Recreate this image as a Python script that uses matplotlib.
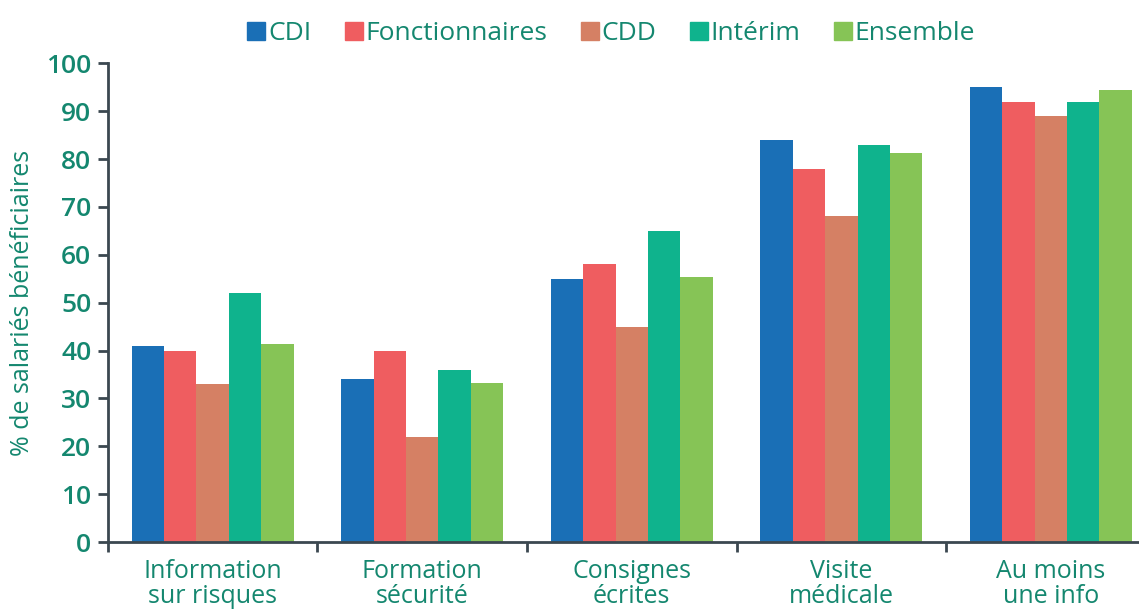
import numpy as np
import matplotlib
matplotlib.use('Agg')
import matplotlib.pyplot as plt
from matplotlib.lines import Line2D

categories = ["Information\nsur risques", "Formation\nsécurité", "Consignes\nécrites",
              "Visite\nmédicale", "Au moins\nune info"]
series_names = ["CDI", "Fonctionnaires", "CDD", "Intérim", "Ensemble"]
cdi = [41, 34, 55, 84, 95]
fonctionnaires = [40, 40, 58, 78, 92]
cdd = [33, 22, 45, 68, 89]
interim = [52, 36, 65, 83, 92]
ensemble = [41.3, 33.3, 55.4, 81.3, 94.4]
yticks = [0, 10, 20, 30, 40, 50, 60, 70, 80, 90, 100]

colors = ['#1a6fb6', '#ef5d60', '#d58064', '#0fb38d', '#86c456']
TEXT = '#14876f'
AXIS = '#3b4850'

plt.rcParams['font.family'] = ['Open Sans', 'DejaVu Sans']

fig = plt.figure(figsize=(11.39, 6.14), dpi=100)
ax = fig.add_axes([0.0948, 0.117, 0.905, 0.78])

x = np.arange(len(categories))
w = 0.155
all_vals = [cdi, fonctionnaires, cdd, interim, ensemble]
for i, (vals, c) in enumerate(zip(all_vals, colors)):
    ax.bar(x + (i - 2) * w, vals, width=w, color=c, zorder=2)

ax.set_xlim(-0.5, 4.42)
ax.set_ylim(0, 100)
ax.set_yticks(yticks)
ax.set_xticks(np.arange(-0.5, 4.5, 1.0))
ax.set_xticklabels([])
ax.set_xticks(x, minor=True)
ax.set_xticklabels(categories, minor=True)
ax.tick_params(axis='x', which='minor', length=0, pad=12, labelsize=18, labelcolor=TEXT)
ax.tick_params(axis='x', which='major', length=7, width=2, color=AXIS, direction='out')
ax.tick_params(axis='y', length=7, width=2, color=AXIS, labelsize=19, labelcolor=TEXT, pad=5)
for lab in ax.get_yticklabels():
    lab.set_fontweight('semibold')
for lab in ax.get_xticklabels(minor=True):
    lab.set_fontweight('medium')
    lab.set_linespacing(1.0)

for s in ['top', 'right']:
    ax.spines[s].set_visible(False)
for s in ['left', 'bottom']:
    ax.spines[s].set_color(AXIS)
    ax.spines[s].set_linewidth(2)

ax.set_ylabel("% de salariés bénéficiaires", fontsize=18, color=TEXT, labelpad=8, fontweight='medium')

handles = [Line2D([0], [0], marker='s', linestyle='none', markersize=13, color=c) for c in colors]
leg = fig.legend(handles, series_names, loc='center', bbox_to_anchor=(0.537, 0.945), ncol=5,
                 frameon=False, fontsize=19, handlelength=0.6, handletextpad=0.15, columnspacing=1.3)
for t in leg.get_texts():
    t.set_color(TEXT)
    t.set_fontweight('medium')

fig.savefig('out.png', dpi=100)
